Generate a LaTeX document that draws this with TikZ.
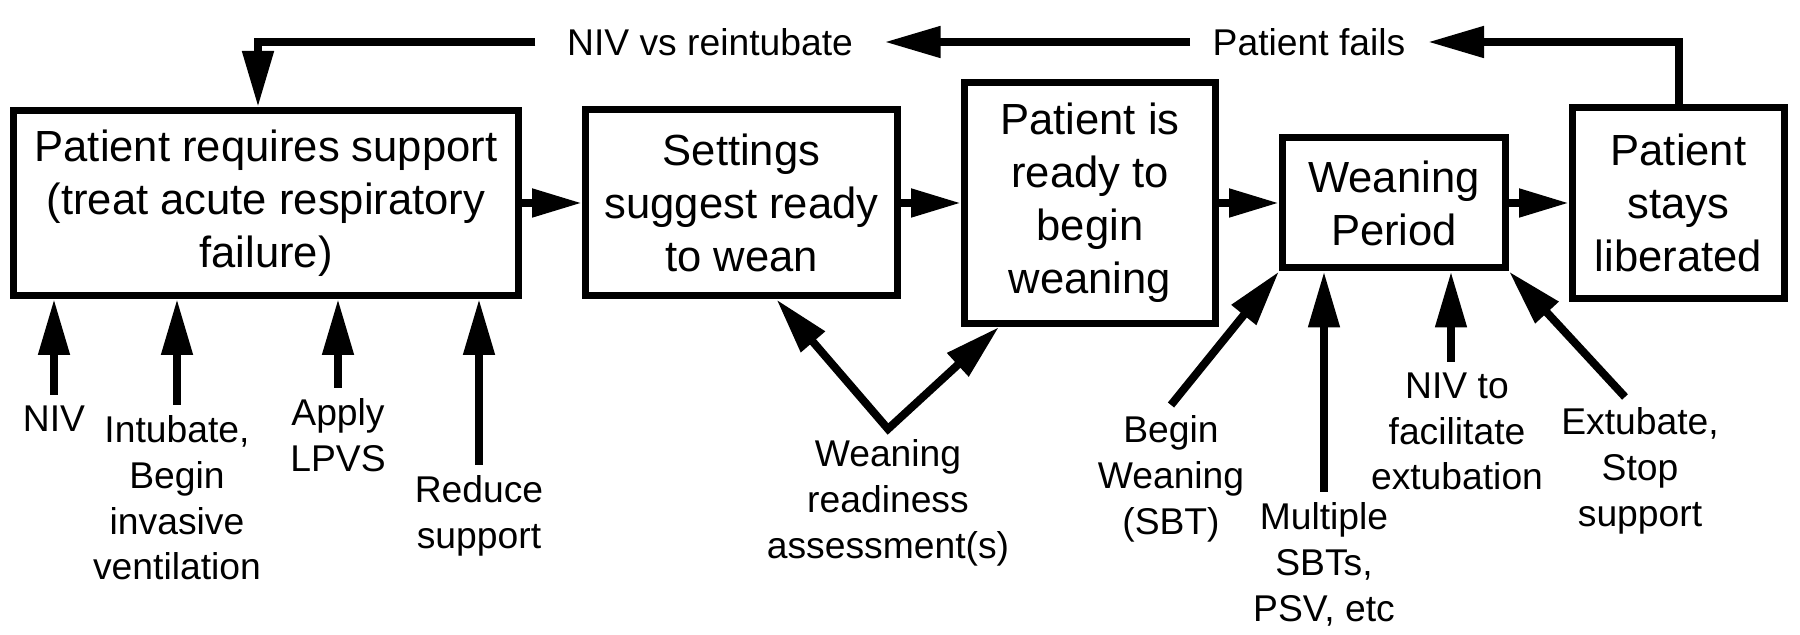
\documentclass[tikz,border=0pt]{standalone}
\usepackage{fontspec}
\setmainfont{Liberation Sans}
\usetikzlibrary{positioning, arrows.meta}

\begin{document}
\begin{tikzpicture}[
    >={Triangle[length=0.56cm, width=0.3cm]},
    node distance=0.6cm,
    block/.style={draw, line width=0.07cm, inner sep=0.1cm, align=center,
                  font=\fontsize{12.4}{15.1}\selectfont},
    io/.style={align=center, inner sep=0.1cm, font=\fontsize{10.6}{13}\selectfont},
    arr/.style={draw, ->, line width=0.08cm},
    flow/.style={draw, -{Triangle[length=0.5cm, width=0.27cm]}, line width=0.08cm},
]
\useasboundingbox (0,0) rectangle (18,6.35);

% --- Stages ---
\node[block, minimum width=5.05cm, minimum height=1.85cm] (support) at (2.66,4.32)
  {Patient requires support\\(treat acute respiratory\\failure)};
\node[block, right=of support, minimum width=3.12cm, minimum height=1.86cm] (settings)
  {Settings\\suggest ready\\to wean};
\node[block, right=of settings, minimum width=2.51cm, minimum height=2.41cm] (ready)
  {Patient is\\ready to\\begin\\weaning};
\node[block, right=of ready, minimum width=2.23cm, minimum height=1.30cm] (weanper)
  {Weaning\\Period};
\node[block, right=of weanper, minimum width=2.12cm, minimum height=1.91cm] (liberated)
  {Patient\\stays\\liberated};

% --- Failure path (top) ---
\node[io, inner xsep=0.22cm] (fails) at (13.09,5.93) {Patient fails};
\node[io, inner xsep=0.31cm] (reint) at (7.10,5.93) {NIV vs reintubate};

% --- Inputs under support ---
\node[io, anchor=north] (niv) at (0.54,2.40) {NIV};
\node[io, anchor=north] (intub) at (1.77,2.30) {Intubate,\\Begin\\invasive\\ventilation};
\node[io, anchor=north] (lpvs) at (3.38,2.47) {Apply\\LPVS};
\node[io, anchor=north] (reduce) at (4.79,1.70) {Reduce\\support};

% --- Readiness ---
\node[io, anchor=north] (assess) at (8.88,2.06) {Weaning\\readiness\\assessment(s)};

% --- Inputs under weaning period ---
\node[io, anchor=north] (sbt) at (11.71,2.30) {Begin\\Weaning\\(SBT)};
\node[io, anchor=north] (multi) at (13.24,1.43) {Multiple\\SBTs,\\PSV, etc};
\node[io, anchor=north] (nivto) at (14.57,2.73) {NIV to\\facilitate\\extubation};
\node[io, anchor=north] (extub) at (16.40,2.38) {Extubate,\\Stop\\support};

% --- Arrows ---
\draw[flow] (support) -- (settings);
\draw[flow] (settings) -- (ready);
\draw[flow] (ready) -- (weanper);
\draw[flow] (weanper) -- (liberated);

\draw[arr] (liberated.north) |- (fails.east);
\draw[arr] (fails) -- (reint);
\draw[arr] (reint.west) -| ([xshift=-0.08cm]support.north);

\draw[arr] (niv.north) -- (niv.north |- support.south);
\draw[arr] (intub.north) -- (intub.north |- support.south);
\draw[arr] (lpvs.north) -- (lpvs.north |- support.south);
\draw[arr] (reduce.north) -- (reduce.north |- support.south);

\draw[arr, <->] ([xshift=0.35cm]settings.south) -- (assess.north)
  -- ([xshift=-0.91cm]ready.south);

\draw[arr] (sbt.north) -- (weanper.south west);
\draw[arr] (multi.north) -- (multi.north |- weanper.south);
\draw[arr] ([xshift=-0.06cm]nivto.north) -- ([xshift=-0.06cm]nivto.north |- weanper.south);
\draw[arr] ([xshift=-0.15cm]extub.north) -- (weanper.south east);
\end{tikzpicture}
\end{document}
